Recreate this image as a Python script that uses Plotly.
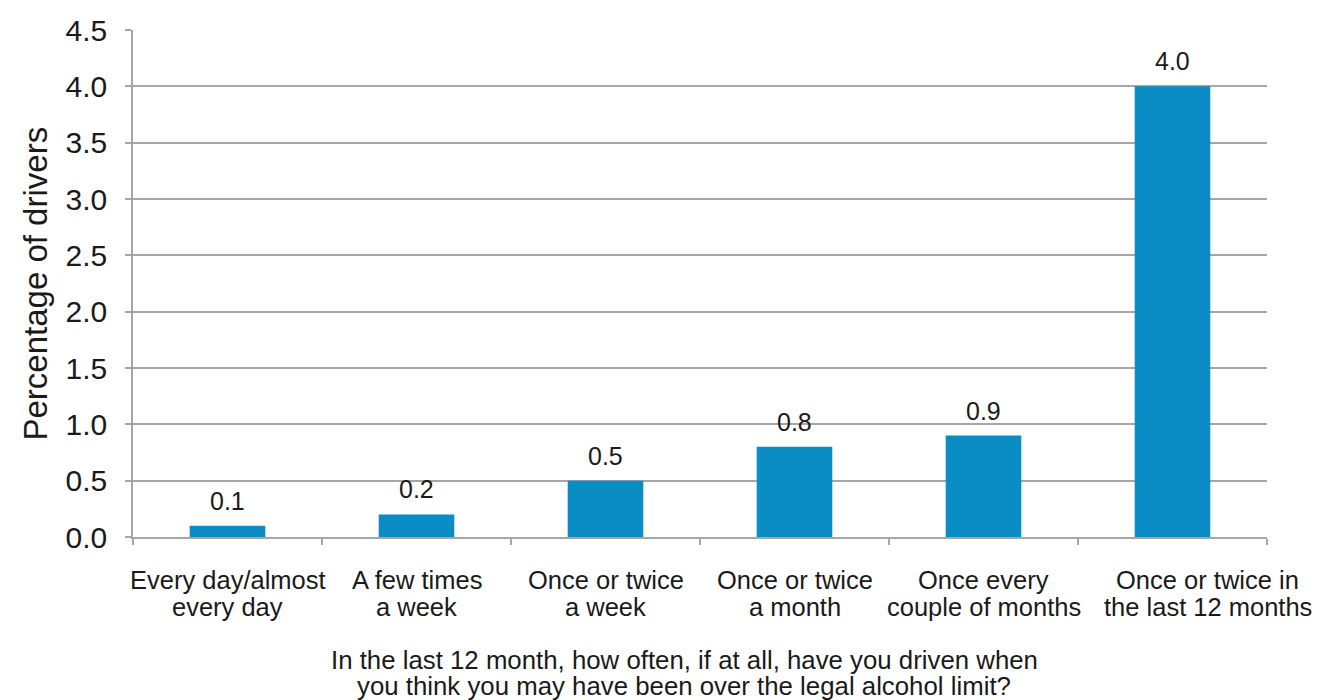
import plotly.graph_objects as go

categories = ["Every day/almost every day", "A few times a week", "Once or twice a week",
              "Once or twice a month", "Once every couple of months", "Once or twice in the last 12 months"]
label_line1 = ["Every day/almost", "A few times", "Once or twice", "Once or twice", "Once every", "Once or twice in"]
label_line2 = ["every day", "a week", "a week", "a month", "couple of months", "the last 12 months"]
values = [0.1, 0.2, 0.5, 0.8, 0.9, 4.0]
value_labels = ["0.1", "0.2", "0.5", "0.8", "0.9", "4.0"]
y_ticks = [0.0, 0.5, 1.0, 1.5, 2.0, 2.5, 3.0, 3.5, 4.0, 4.5]
y_title = "Percentage of drivers"
x_title_lines = ["In the last 12 month, how often, if at all, have you driven when",
                 "you think you may have been over the legal alcohol limit?"]

FONT = "Liberation Sans, Arial, Helvetica, sans-serif"
GRID = "#a6a6a6"
TXT = "#1a1a1a"
LABEL_SHIFTS = [0, 0, 0, 0, 0, 35]   # horizontal nudges (px) for category labels

fig = go.Figure(go.Bar(
    x=categories, y=values,
    marker=dict(color="#0a8dc5", line=dict(width=0)),
    hoverinfo="x+y",
))

fig.update_layout(
    width=1323, height=700,
    margin=dict(l=125, r=64, t=22, b=171, autoexpand=False),
    plot_bgcolor="white", paper_bgcolor="white",
    bargap=0.6, showlegend=False,
    font=dict(family=FONT, color=TXT),
)
fig.update_xaxes(
    range=[-0.5, len(categories) - 0.5], autorange=False,
    showline=True, linecolor=GRID, linewidth=1.5,
    ticks="outside", tickson="boundaries", ticklen=6, tickcolor=GRID, tickwidth=1.5,
    showticklabels=False, showgrid=False, automargin=False,
)
fig.update_yaxes(
    range=[0, 4.5], autorange=False, tickvals=y_ticks, ticktext=[f"{v:.1f}" for v in y_ticks],
    showline=True, linecolor=GRID, linewidth=1.5,
    ticks="outside", ticklen=6, tickcolor=GRID, tickwidth=1.5,
    showgrid=True, gridcolor=GRID, gridwidth=1.5,
    tickfont=dict(family=FONT, size=30, color=TXT),
    ticklabelstandoff=12, automargin=False,
    zeroline=False,
)

# data labels above bars
for c, v, t in zip(categories, values, value_labels):
    fig.add_annotation(x=c, y=v, xref="x", yref="y", text=t, showarrow=False,
                       yanchor="bottom", yshift=9,
                       font=dict(family=FONT, size=25, color=TXT))

# category labels (two lines each)
for c, l1, l2, dx in zip(categories, label_line1, label_line2, LABEL_SHIFTS):
    fig.add_annotation(x=c, y=-0.0848, xref="x", yref="paper", text=l1, showarrow=False,
                       yanchor="middle", xshift=dx, font=dict(family=FONT, size=25.5, color=TXT))
    fig.add_annotation(x=c, y=-0.139, xref="x", yref="paper", text=l2, showarrow=False,
                       yanchor="middle", xshift=dx, font=dict(family=FONT, size=25.5, color=TXT))

fig.add_annotation(
    text=y_title, textangle=-90, xref="paper", yref="paper",
    x=-0.0864, y=0.5, xanchor="center", yanchor="middle", showarrow=False,
    font=dict(family=FONT, size=33, color=TXT),
)
for i, line in enumerate(x_title_lines):
    fig.add_annotation(
        text=line, xref="paper", yref="paper", x=0.5, y=[-0.2426, -0.2939][i],
        xanchor="center", yanchor="middle", xshift=-16, showarrow=False,
        font=dict(family=FONT, size=25.8, color=TXT),
    )
fig.write_html("out.html")
